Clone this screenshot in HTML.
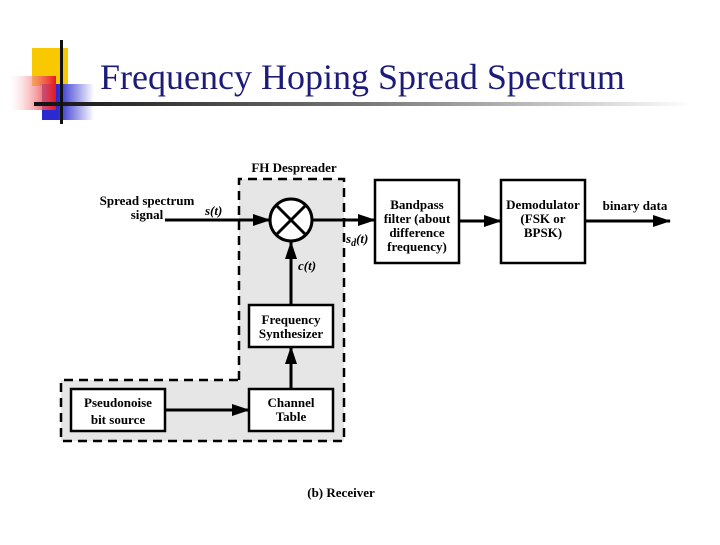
<!DOCTYPE html>
<html><head><style>body{margin:0;background:#fff;width:720px;height:540px;overflow:hidden}</style></head><body>
<svg width="720" height="540" xmlns="http://www.w3.org/2000/svg" font-family="Liberation Serif, serif">
<defs>
<linearGradient id="ln" x1="0" x2="1"><stop offset="0" stop-color="#111"/><stop offset="0.5" stop-color="#777"/><stop offset="1" stop-color="#fff"/></linearGradient>
<linearGradient id="rd" x1="1" x2="0"><stop offset="0" stop-color="#e8141c"/><stop offset="1" stop-color="#fff" stop-opacity="0.3"/></linearGradient>
<linearGradient id="bl" x1="0" x2="1"><stop offset="0.3" stop-color="#2a2ad0"/><stop offset="1" stop-color="#fff"/></linearGradient>
<marker id="a" markerWidth="10" markerHeight="10" refX="9" refY="5" orient="auto" markerUnits="userSpaceOnUse"><path d="M0,0 L10,5 L0,10 z" fill="#000"/></marker>
<marker id="b" markerWidth="18" markerHeight="12" refX="17" refY="6" orient="auto" markerUnits="userSpaceOnUse"><path d="M0,0 L18,6 L0,12 z" fill="#000"/></marker>
</defs>
<rect x="32" y="48" width="36" height="38" fill="#f8c800"/>
<rect x="42" y="84" width="52" height="36" fill="url(#bl)"/>
<rect x="10" y="76" width="46" height="34" fill="url(#rd)"/>
<rect x="34" y="102" width="660" height="4" fill="url(#ln)"/>
<rect x="60" y="40" width="3" height="84" fill="#111"/>
<text x="100" y="89" font-size="36" fill="#1c1c78">Frequency Hoping Spread Spectrum</text>

<path d="M239,179 H344 V441 H61 V380 H239 Z" fill="#e6e6e6"/>
<path d="M239,380 V179 H344 V441 H61 V380 H239" fill="none" stroke="#000" stroke-width="2.5" stroke-dasharray="9,6"/>
<g font-weight="bold" font-size="13" text-anchor="middle">
<text x="294" y="172">FH Despreader</text>
<text x="147" y="205">Spread spectrum</text>
<text x="147" y="219">signal</text>
</g>
<g stroke="#000" stroke-width="3" fill="none">
<line x1="165" y1="220" x2="270" y2="220" marker-end="url(#b)"/>
<line x1="312" y1="220" x2="375" y2="220" marker-end="url(#b)"/>
<line x1="459" y1="221" x2="501" y2="221" marker-end="url(#b)"/>
<line x1="585" y1="221" x2="670" y2="221" marker-end="url(#b)"/>
<line x1="291" y1="305" x2="291" y2="242" marker-end="url(#b)"/>
<line x1="291" y1="389" x2="291" y2="347" marker-end="url(#b)"/>
<line x1="165" y1="410" x2="249" y2="410" marker-end="url(#b)"/>
<circle cx="291" cy="220" r="21" fill="#fff"/>
<line x1="276" y1="205" x2="306" y2="235"/><line x1="306" y1="205" x2="276" y2="235"/>
</g>
<g stroke="#000" stroke-width="2.5" fill="#fff">
<rect x="375" y="180" width="84" height="83"/>
<rect x="501" y="180" width="84" height="83"/>
<rect x="249" y="305" width="84" height="42"/>
<rect x="249" y="389" width="84" height="42"/>
<rect x="71" y="389" width="94" height="42"/>
</g>
<g font-weight="bold" font-size="13" text-anchor="middle">
<text x="417" y="209">Bandpass</text><text x="417" y="223">filter (about</text><text x="417" y="237">difference</text><text x="417" y="251">frequency)</text>
<text x="543" y="209">Demodulator</text><text x="543" y="223">(FSK or</text><text x="543" y="237">BPSK)</text>
<text x="635" y="210">binary data</text>
<text x="291" y="324">Frequency</text><text x="291" y="338">Synthesizer</text>
<text x="291" y="407">Channel</text><text x="291" y="421">Table</text>
<text x="118" y="407">Pseudonoise</text><text x="118" y="424">bit source</text>
<text x="341" y="497">(b) Receiver</text>
</g>
<g font-style="italic" font-weight="bold" font-size="13">
<text x="205" y="215">s(t)</text>
<text x="298" y="270">c(t)</text>
<text x="346" y="243">s<tspan font-size="10" dy="3">d</tspan><tspan dy="-3">(t)</tspan></text>
</g>
</svg>
</body></html>
